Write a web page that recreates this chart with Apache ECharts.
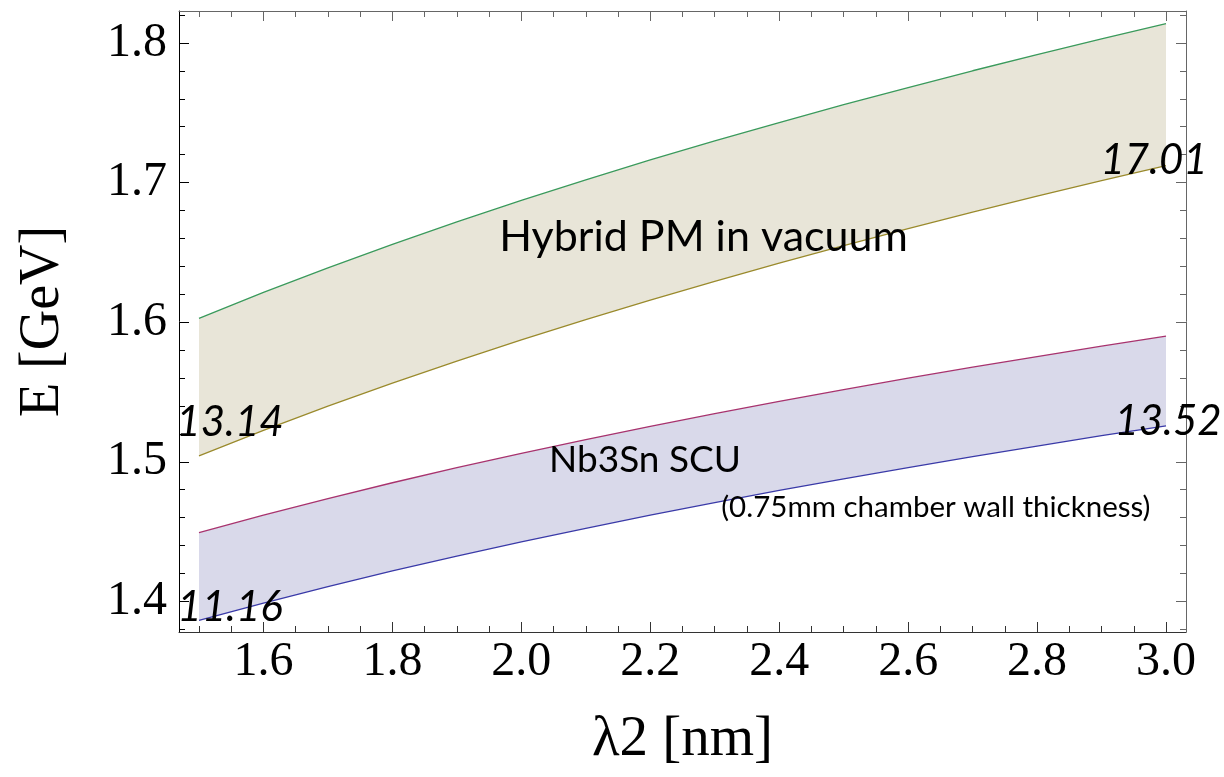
<!DOCTYPE html>
<html>
<head>
<meta charset="utf-8">
<script src="https://cdn.jsdelivr.net/npm/echarts@6/dist/echarts.min.js"></script>
<style>
html,body{margin:0;padding:0;background:#fff;}
#chart{width:1224px;height:777px;}
</style>
</head>
<body>
<div id="chart"></div>
<script>
// ---- data ----
const lambda = [1.5, 1.6, 1.7, 1.8, 1.9, 2.0, 2.1, 2.2, 2.3, 2.4, 2.5, 2.6, 2.7, 2.8, 2.9, 3.0];
const hybridUpper = [1.6027, 1.6213, 1.6389, 1.6558, 1.6718, 1.6872, 1.7020, 1.7162, 1.7298, 1.7430, 1.7558, 1.7681, 1.7801, 1.7917, 1.8030, 1.8139];
const hybridLower = [1.5043, 1.5225, 1.5399, 1.5564, 1.5722, 1.5873, 1.6019, 1.6158, 1.6293, 1.6423, 1.6549, 1.6671, 1.6789, 1.6903, 1.7014, 1.7122];
const scuUpper    = [1.4492, 1.4618, 1.4737, 1.4850, 1.4958, 1.5061, 1.5159, 1.5254, 1.5345, 1.5433, 1.5517, 1.5599, 1.5678, 1.5754, 1.5828, 1.5900];
const scuLower    = [1.3864, 1.3988, 1.4106, 1.4218, 1.4325, 1.4426, 1.4524, 1.4618, 1.4708, 1.4795, 1.4878, 1.4959, 1.5037, 1.5113, 1.5187, 1.5258];

const xTickLabels = [1.6, 1.8, 2.0, 2.2, 2.4, 2.6, 2.8, 3.0];
const xMinorTicks = [1.5, 1.55, 1.65, 1.7, 1.75, 1.85, 1.9, 1.95, 2.05, 2.1, 2.15, 2.25, 2.3, 2.35, 2.45, 2.5, 2.55, 2.65, 2.7, 2.75, 2.85, 2.9, 2.95, 3.0];
const yTickLabels = [1.4, 1.5, 1.6, 1.7, 1.8];
const yMinorTicks = [1.38, 1.42, 1.44, 1.46, 1.48, 1.52, 1.54, 1.56, 1.58, 1.62, 1.64, 1.66, 1.68, 1.72, 1.74, 1.76, 1.78, 1.82];

const xRange = [1.469, 3.031];
const yRange = [1.3781, 1.8229];

const regionLabels = [
  {text: 'Hybrid PM in vacuum', x: 2.2826, y: 1.6609, size: 43},
  {text: 'Nb3Sn SCU', x: 2.1918, y: 1.5015, size: 37},
  {text: '(0.75mm chamber wall thickness)', x: 2.6430, y: 1.4672, size: 29.5}
];
// endpoint annotations (anchored to curve ends)
const endLabels = [
  {text: '13.14', x: lambda[0], y: hybridLower[0], dx: 31, dy: -33},
  {text: '17.01', x: lambda[15], y: hybridLower[15], dx: -12, dy: -5},
  {text: '11.16', x: lambda[0], y: scuLower[0], dx: 31, dy: -13},
  {text: '13.52', x: lambda[15], y: scuLower[15], dx: 2, dy: -4}
];

// ---- build options ----
const pairs = (ys) => lambda.map((x, i) => [x, ys[i]]);

const serif = 'Liberation Serif';
const sans = 'Lato';

function xAx(pos, ticks, len, withLabels, color, showLine) {
  return {
    type: 'value', position: pos, min: xRange[0], max: xRange[1],
    axisLine: {show: showLine, onZero: false, lineStyle: {color: color, width: 1}},
    axisTick: {show: true, inside: true, length: len, customValues: ticks, lineStyle: {color: color, width: 1}},
    axisLabel: withLabels ? {show: true, customValues: xTickLabels, formatter: v => v.toFixed(1), fontFamily: serif, fontSize: 48, color: '#000', margin: 6} : {show: false},
    splitLine: {show: false},
    name: withLabels ? 'λ2 [nm]' : '',
    nameLocation: 'middle', nameGap: 80,
    nameTextStyle: {fontFamily: serif, fontSize: 57, color: '#000'}
  };
}
function yAx(pos, ticks, len, withLabels, color, showLine) {
  return {
    type: 'value', position: pos, min: yRange[0], max: yRange[1],
    axisLine: {show: showLine, onZero: false, lineStyle: {color: color, width: 1}},
    axisTick: {show: true, inside: true, length: len, customValues: ticks, lineStyle: {color: color, width: 1}},
    axisLabel: withLabels ? {show: true, customValues: yTickLabels, formatter: v => v.toFixed(1), fontFamily: serif, fontSize: 48, color: '#000', margin: 12} : {show: false},
    splitLine: {show: false},
    name: withLabels ? 'E [GeV]' : '',
    nameLocation: 'middle', nameGap: 108,
    nameTextStyle: {fontFamily: serif, fontSize: 56, color: '#000'}
  };
}

const lineSeries = (name, ys, color) => ({
  name, type: 'line', data: pairs(ys), symbol: 'none',
  lineStyle: {color, width: 1.3}, z: 5, silent: true
});

// band between two curves drawn via the axis scales
const bandSeries = (name, upper, lower, fill) => ({
  name, type: 'custom', z: 1, silent: true,
  data: pairs(upper),
  renderItem: (params, api) => {
    if (params.dataIndex !== 0) return null;
    const pts = [];
    for (let i = 0; i < lambda.length; i++) pts.push(api.coord([lambda[i], upper[i]]));
    for (let i = lambda.length - 1; i >= 0; i--) pts.push(api.coord([lambda[i], lower[i]]));
    return {type: 'polygon', shape: {points: pts}, style: {fill: fill, stroke: null}};
  }
});

const labelBase = {show: true, position: 'inside', color: '#000', opacity: 1, textBorderWidth: 0, textBorderColor: 'transparent', textShadowBlur: 0};

const option = {
  animation: false,
  backgroundColor: '#fff',
  grid: {left: 179, right: 38, top: 11, bottom: 145, containLabel: false},
  xAxis: [
    xAx('bottom', xTickLabels, 10, true, '#333', true),
    xAx('bottom', xMinorTicks, 6, false, '#333', false),
    xAx('top', xTickLabels, 10, false, '#666', true),
    xAx('top', xMinorTicks, 6, false, '#666', false)
  ],
  yAxis: [
    yAx('left', yTickLabels, 10, true, '#000', true),
    yAx('left', yMinorTicks, 6, false, '#000', false),
    yAx('right', yTickLabels, 10, false, '#666', true),
    yAx('right', yMinorTicks, 6, false, '#666', false)
  ],
  series: [
    bandSeries('Hybrid PM band', hybridUpper, hybridLower, '#e8e5d8'),
    bandSeries('Nb3Sn SCU band', scuUpper, scuLower, '#d9d9ea'),
    lineSeries('Hybrid upper', hybridUpper, '#3a9a5c'),
    lineSeries('Hybrid lower', hybridLower, '#9a8a2c'),
    lineSeries('SCU upper', scuUpper, '#a8336e'),
    lineSeries('SCU lower', scuLower, '#3a3aa8'),
    {
      name: 'regionLabels', type: 'scatter', symbolSize: 0, z: 10, silent: true,
      itemStyle: {color: '#000', opacity: 1},
      data: regionLabels.map(d => ({value: [d.x, d.y], label: Object.assign({}, labelBase, {formatter: d.text, fontFamily: sans, fontSize: d.size})}))
    },
    {
      name: 'endLabels', type: 'scatter', symbolSize: 0, z: 10, silent: true,
      itemStyle: {color: '#000', opacity: 1},
      data: endLabels.map(d => ({value: [d.x, d.y], label: Object.assign({}, labelBase, {offset: [d.dx, d.dy], formatter: d.text, fontFamily: sans, fontStyle: 'italic', fontSize: 42})}))
    }
  ]
};

const chart = echarts.init(document.getElementById('chart'), null, {renderer: 'canvas'});
chart.setOption(option);
</script>
</body>
</html>
